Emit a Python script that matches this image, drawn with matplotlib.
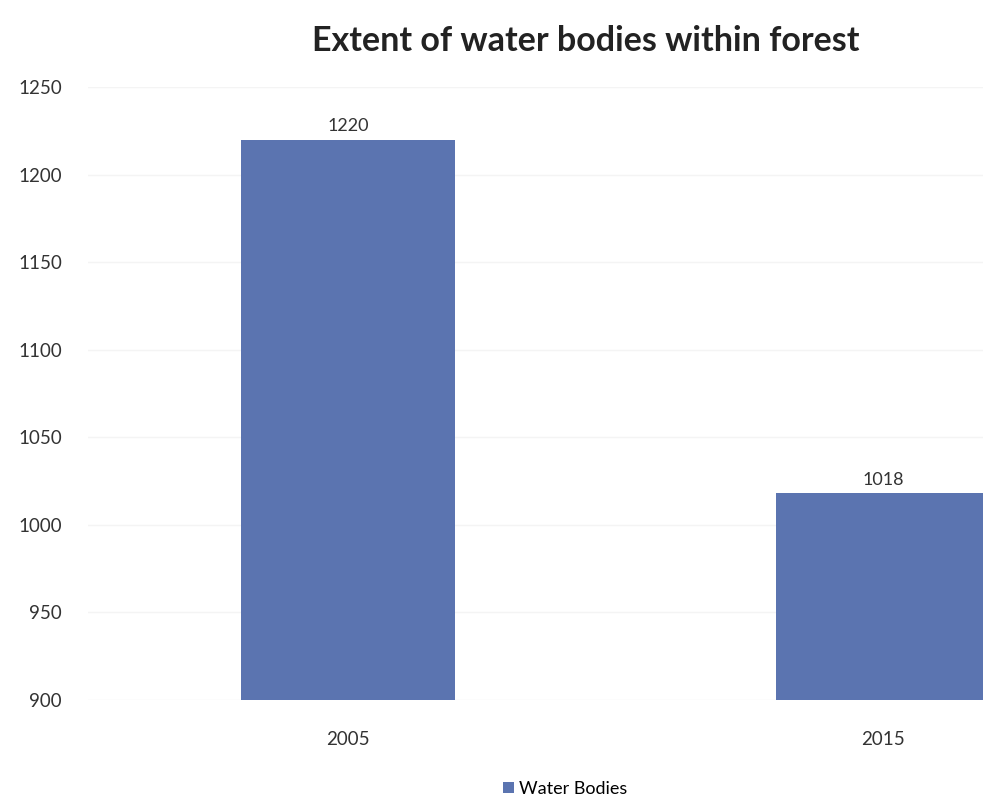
import numpy as np
import matplotlib.pyplot as plt

years = ["2005", "2015"]
water_bodies = [1220, 1018]
series_name = "Water Bodies"

plt.rcParams['font.family'] = ['Lato', 'DejaVu Sans']

fig = plt.figure(figsize=(9.83, 7.95), dpi=100)
ax = fig.add_axes([0.09, 0.1195, 0.91, 0.7711])

x = np.arange(len(years))
bars = ax.bar(x, water_bodies, width=0.4, color='#5B74B0', label=series_name, zorder=2)
ax.bar_label(bars, labels=[str(v) for v in water_bodies], padding=4, fontsize=13, color='#333333')

ax.set_ylim(900, 1250)
ax.set_xlim(-0.486, 1.187)
ax.set_yticks(np.arange(900, 1251, 50))
ax.set_xticks(x)
ax.set_xticklabels(years)
ax.grid(axis='y', color='#f4f4f4', linewidth=1, zorder=0)
for s in ax.spines.values():
    s.set_visible(False)
ax.tick_params(axis='both', length=0, labelsize=13.5, labelcolor='#333333')
ax.tick_params(axis='y', pad=19)
ax.tick_params(axis='x', pad=22)

fig.suptitle("Extent of water bodies within forest", x=0.596, y=0.968, fontsize=24.5, fontweight='bold', color='#222222')
fig.legend(loc='center', bbox_to_anchor=(0.575, 0.008), frameon=False, fontsize=13,
           handlelength=0.6, handleheight=0.6, handletextpad=0.3)

fig.savefig("out.png", dpi=100)
